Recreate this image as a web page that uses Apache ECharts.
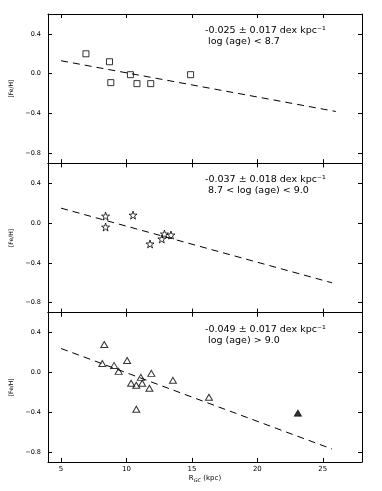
<!DOCTYPE html>
<html>
<head>
<meta charset="utf-8">
<script src="https://cdn.jsdelivr.net/npm/echarts@6/dist/echarts.min.js"></script>
<style>
  html, body { margin: 0; padding: 0; background: #fff; }
  #chart { width: 382px; height: 491px; }
</style>
</head>
<body>
<div id="chart"></div>
<script>
// young clusters: log (age) < 8.7
const sqR  = [6.9, 8.7, 8.8, 10.3, 10.8, 11.85, 14.9];
const sqFe = [0.20, 0.12, -0.09, -0.01, -0.10, -0.10, -0.01];
// intermediate: 8.7 < log (age) < 9.0
const starR  = [8.4, 8.4, 10.5, 11.8, 12.7, 12.9, 13.4];
const starFe = [0.07, -0.04, 0.08, -0.21, -0.16, -0.11, -0.12];
// old: log (age) > 9.0
const triR  = [8.3, 8.15, 9.05, 9.4, 10.05, 10.35, 10.75, 11.1, 11.2, 11.75, 11.9, 10.75, 13.55, 16.3];
const triFe = [0.28, 0.09, 0.07, 0.01, 0.12, -0.11, -0.13, -0.05, -0.11, -0.16, -0.01, -0.37, -0.08, -0.25];
const filledR  = [23.1];
const filledFe = [-0.41];

// fitted gradients (dashed)
const fit1R = [5, 26],   fit1Fe = [0.13, -0.38];
const fit2R = [5, 25.7], fit2Fe = [0.15, -0.60];
const fit3R = [5, 25.7], fit3Fe = [0.24, -0.77];

const labels = [
  '-0.025 \u00b1 0.017 dex kpc\u207b\u00b9\n log (age) < 8.7',
  '-0.037 \u00b1 0.018 dex kpc\u207b\u00b9\n 8.7 < log (age) < 9.0',
  '-0.049 \u00b1 0.017 dex kpc\u207b\u00b9\n log (age) > 9.0'
];
const xTicks = [5, 10, 15, 20, 25];
const yTicks = [-0.8, -0.4, 0.0, 0.4];

const FONT = 'DejaVu Sans';
const tops = [14, 163.4, 312.7];
const H = 149.2;
const starPath = 'path://M50,2 L61,36 L97,36 L68,57 L79,92 L50,71 L21,92 L32,57 L3,36 L39,36 Z';

const zip = (a, b) => a.map((v, i) => [v, b[i]]);
const fmtY = v => v === 0 ? '0.0' : (v < 0 ? '\u2212' + Math.abs(v).toFixed(1) : v.toFixed(1));

const grid = [], xAxis = [], yAxis = [], series = [], graphic = [];
const line = { show: true, onZero: false, lineStyle: { color: '#000', width: 1 } };
const tick = (vals) => ({ show: true, inside: true, length: 4, customValues: vals, lineStyle: { color: '#000', width: 1 } });

tops.forEach((top, i) => {
  grid.push({ left: 48, width: 314, top: top, height: H, outerBoundsMode: 'none' });
  const last = i === 2;
  xAxis.push({
    type: 'value', gridIndex: i, position: 'bottom', min: 4, max: 28,
    axisLine: line, axisTick: tick(xTicks), splitLine: { show: false },
    axisLabel: { show: last, customValues: xTicks, fontFamily: FONT, fontSize: 7, color: '#000', margin: 4 },
    name: last ? 'R{sub|GC} (kpc)' : '', nameLocation: 'middle', nameGap: 12,
    nameTextStyle: { fontFamily: FONT, fontSize: 7, color: '#000',
      rich: { sub: { fontFamily: FONT, fontSize: 5, fontStyle: 'italic', color: '#000', padding: [4, 0, 0, 0] } } }
  });
  xAxis.push({
    type: 'value', gridIndex: i, position: 'top', min: 4, max: 28,
    axisLine: line, axisTick: tick(xTicks), axisLabel: { show: false }, splitLine: { show: false }
  });
  yAxis.push({
    type: 'value', gridIndex: i, position: 'left', min: -0.9, max: 0.6,
    axisLine: line, axisTick: tick(yTicks), splitLine: { show: false },
    axisLabel: { customValues: yTicks, formatter: fmtY, fontFamily: FONT, fontSize: 6.5, color: '#000', margin: 7 },
    name: '[Fe/H]', nameLocation: 'middle', nameRotate: 90, nameGap: 27,
    nameTextStyle: { fontFamily: FONT, fontSize: 6, color: '#000' }
  });
  yAxis.push({
    type: 'value', gridIndex: i, position: 'right', min: -0.9, max: 0.6,
    axisLine: line, axisTick: tick(yTicks), axisLabel: { show: false }, splitLine: { show: false }
  });
  graphic.push({
    type: 'text', left: 205, top: top + 11,
    style: { text: labels[i], font: '9.5px "DejaVu Sans"', fill: '#000', lineHeight: 11 }
  });
});

const fits = [[fit1R, fit1Fe], [fit2R, fit2Fe], [fit3R, fit3Fe]];
fits.forEach(([r, fe], i) => {
  series.push({
    type: 'line', xAxisIndex: 2 * i, yAxisIndex: 2 * i, data: zip(r, fe),
    symbol: 'none', silent: true,
    lineStyle: { color: '#000', width: 1, type: [7, 5] }
  });
});

const open = { color: 'rgba(0,0,0,0)', borderColor: '#000', borderWidth: 1 };
series.push({ type: 'scatter', xAxisIndex: 0, yAxisIndex: 0, data: zip(sqR, sqFe),
  symbol: 'rect', symbolSize: 6, itemStyle: open, z: 5 });
series.push({ type: 'scatter', xAxisIndex: 2, yAxisIndex: 2, data: zip(starR, starFe),
  symbol: starPath, symbolSize: 8, itemStyle: open, z: 5 });
series.push({ type: 'scatter', xAxisIndex: 4, yAxisIndex: 4, data: zip(triR, triFe),
  symbol: 'triangle', symbolSize: [7, 6], itemStyle: open, z: 5 });
series.push({ type: 'scatter', xAxisIndex: 4, yAxisIndex: 4, data: zip(filledR, filledFe),
  symbol: 'triangle', symbolSize: [7, 6], itemStyle: { color: '#000', borderColor: '#000', borderWidth: 1 }, z: 5 });

const chart = echarts.init(document.getElementById('chart'), null, { renderer: 'canvas' });
chart.setOption({
  backgroundColor: '#fff',
  animation: false,
  grid, xAxis, yAxis, series, graphic
});
window.onresize = chart.resize;
</script>
</body>
</html>
